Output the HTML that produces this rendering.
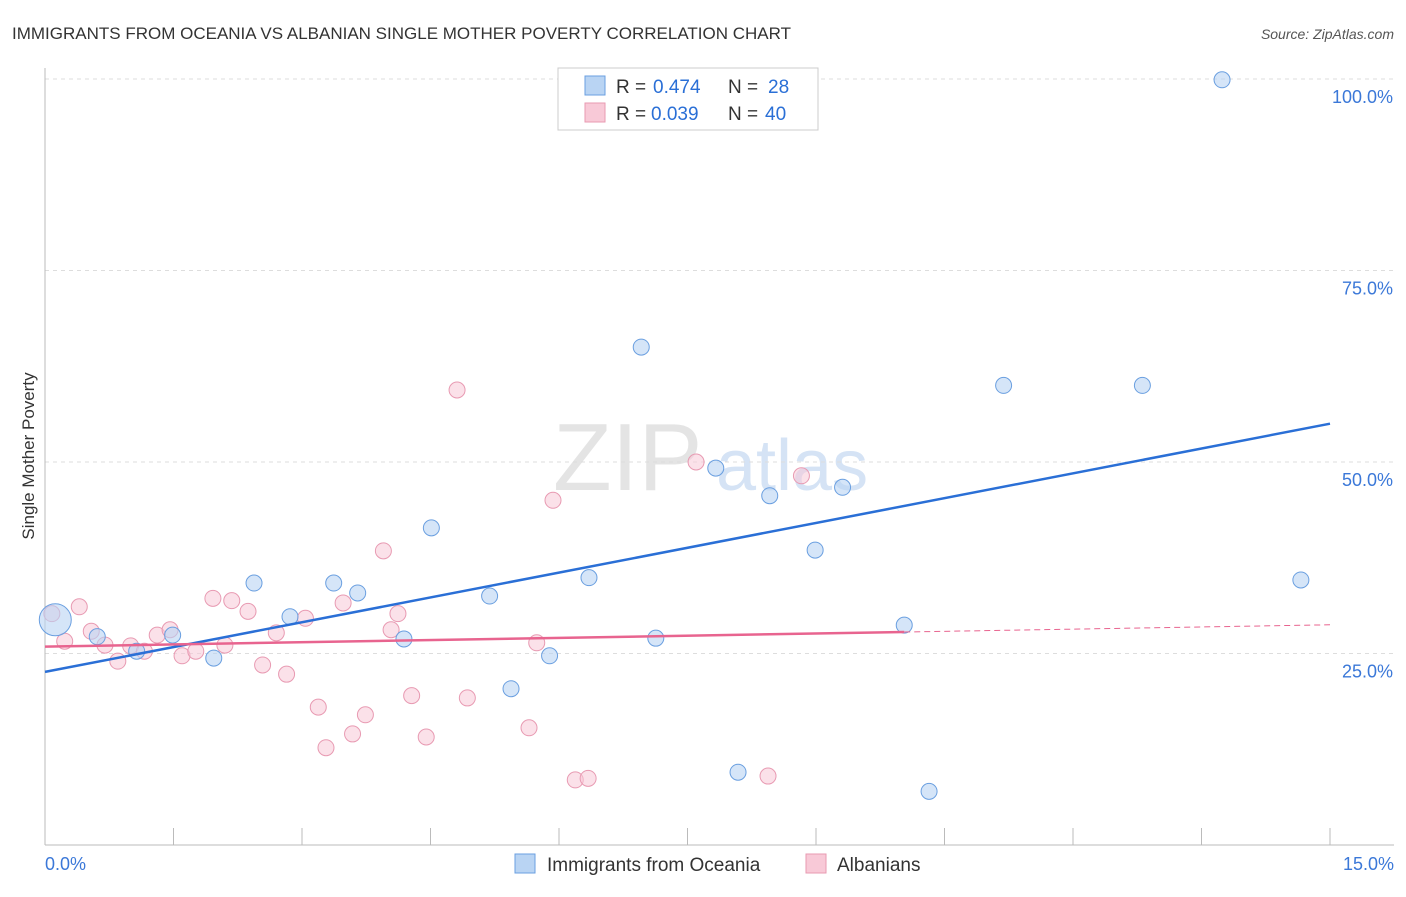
<!DOCTYPE html>
<html><head><meta charset="utf-8"><style>
body{margin:0;background:#fff;font-family:"Liberation Sans",sans-serif;}
svg text{font-family:"Liberation Sans",sans-serif;}
</style></head><body>
<svg id="chart" width="1406" height="892" xmlns="http://www.w3.org/2000/svg">
<text x="12" y="39" font-size="17" fill="#333">IMMIGRANTS FROM OCEANIA VS ALBANIAN SINGLE MOTHER POVERTY CORRELATION CHART</text>
<text x="1394" y="39" font-size="14" fill="#555" font-style="italic" text-anchor="end">Source: ZipAtlas.com</text>
<text x="553" y="490" font-size="96" fill="#e4e4e4" font-family="Liberation Serif">ZIP<tspan x="716" fill="#d5e3f5" font-family="Liberation Sans" font-size="72">atlas</tspan></text>
<g id="grid"></g>
<g id="axes"></g>
<g id="marks"></g>
<text transform="translate(34,456) rotate(-90)" font-size="17" fill="#333" text-anchor="middle">Single Mother Poverty</text>
<g>
<rect x="558" y="68" width="260" height="62" fill="#fff" stroke="#ccc"/>
<rect x="585" y="76" width="20" height="19" fill="#b9d4f3" stroke="#6a9fe0"/>
<g font-size="19">
<text x="616" y="93" fill="#333">R =</text><text x="653" y="93" fill="#2a6fd6">0.474</text>
<text x="728" y="93" fill="#333">N =</text><text x="768" y="93" fill="#2a6fd6">28</text></g>
<rect x="585" y="103" width="20" height="19" fill="#f8c9d7" stroke="#e89ab2"/>
<g font-size="19">
<text x="616" y="120" fill="#333">R =</text><text x="651" y="120" fill="#2a6fd6">0.039</text>
<text x="728" y="120" fill="#333">N =</text><text x="765" y="120" fill="#2a6fd6">40</text></g>
</g>
<g>
<rect x="515" y="854" width="20" height="19" fill="#b9d4f3" stroke="#6a9fe0"/>
<text x="547" y="871" font-size="19" fill="#333">Immigrants from Oceania</text>
<rect x="806" y="854" width="20" height="19" fill="#f8c9d7" stroke="#e89ab2"/>
<text x="837" y="871" font-size="19" fill="#333">Albanians</text>
</g>
</svg>
<script>
const blueX=[0.12,0.61,1.07,1.49,1.97,2.44,2.86,3.37,3.65,4.19,4.51,5.19,5.44,5.89,6.35,6.96,7.13,7.83,8.09,8.46,8.99,9.31,10.03,10.32,11.19,12.81,13.74,14.66];
const blueY=[29.4,27.2,25.3,27.4,24.4,34.2,29.8,34.2,32.9,26.9,41.4,32.5,20.4,24.7,34.9,65.0,27.0,49.2,9.5,45.6,38.5,46.7,28.7,7.0,60.0,60.0,99.9,34.6];
const pinkX=[0.08,0.23,0.40,0.54,0.70,0.85,1.00,1.16,1.31,1.46,1.60,1.76,1.96,2.10,2.18,2.37,2.54,2.70,2.82,3.04,3.19,3.28,3.48,3.59,3.74,3.95,4.04,4.12,4.28,4.45,4.81,4.93,5.65,5.74,5.93,6.19,6.34,7.60,8.44,8.83];
const pinkY=[30.2,26.6,31.1,27.9,26.1,24.0,26.0,25.3,27.4,28.1,24.7,25.3,32.2,26.1,31.9,30.5,23.5,27.7,22.3,29.6,18.0,12.7,31.6,14.5,17.0,38.4,28.1,30.2,19.5,14.1,59.4,19.2,15.3,26.4,45.0,8.5,8.7,50.0,9.0,48.2];
const blueTrend=[22.6,55.0];
const pinkTrend=[25.9,28.75];
const pinkSolidEnd=10.03;
const yTicks=[25,50,75,100];
const yTickLabels=["25.0%","50.0%","75.0%","100.0%"];
const xTicks=[0,1.5,3,4.5,6,7.5,9,10.5,12,13.5,15];
const NS="http://www.w3.org/2000/svg";
const X=v=>45+v/15*1285, Y=v=>845-v/25*191.5;
function mk(t,a,p){const e=document.createElementNS(NS,t);for(const k in a)e.setAttribute(k,a[k]);p.appendChild(e);return e;}
const grid=document.getElementById('grid'),axes=document.getElementById('axes'),marks=document.getElementById('marks');
yTicks.forEach((v,i)=>{
 const l=mk('line',{x1:45,x2:1394,y1:Y(v),y2:Y(v),stroke:'#ddd','stroke-dasharray':'4,4'},grid);
 
 
 const t=mk('text',{x:1393,y:Y(v)+24,'font-size':18,fill:'#3b78d8','text-anchor':'end'},axes);t.textContent=yTickLabels[i];
 
 
});
mk('line',{x1:45,x2:45,y1:68,y2:845,stroke:'#bbb'},axes);
mk('line',{x1:45,x2:1394,y1:845,y2:845,stroke:'#bbb'},axes);
xTicks.forEach(v=>{const l=mk('line',{x1:X(v),x2:X(v),y1:828,y2:845,stroke:'#bbb'},axes);
 
 });
let t=mk('text',{x:45,y:870,'font-size':18,fill:'#3b78d8'},axes);t.textContent='0.0%';


t=mk('text',{x:1394,y:870,'font-size':18,fill:'#3b78d8','text-anchor':'end'},axes);t.textContent='15.0%';


pinkX.forEach((x,i)=>{const c=mk('circle',{cx:X(x),cy:Y(pinkY[i]),r:8,fill:'#f8c9d7','fill-opacity':0.55,stroke:'#e89ab2','stroke-width':1},marks);
 
 });
blueX.forEach((x,i)=>{const c=mk('circle',{cx:X(x),cy:Y(blueY[i]),r:i===0?16:8,fill:'#b9d4f3','fill-opacity':0.6,stroke:'#6a9fe0','stroke-width':1},marks);
 
 });
let l=mk('line',{x1:X(0),y1:Y(blueTrend[0]),x2:X(15),y2:Y(blueTrend[1]),stroke:'#2a6fd6','stroke-width':2.5},marks);


const pm=pinkTrend[0]+(pinkTrend[1]-pinkTrend[0])*pinkSolidEnd/15;
l=mk('line',{x1:X(0),y1:Y(pinkTrend[0]),x2:X(pinkSolidEnd),y2:Y(pm),stroke:'#e8648f','stroke-width':2.5},marks);


l=mk('line',{x1:X(pinkSolidEnd),y1:Y(pm),x2:X(15),y2:Y(pinkTrend[1]),stroke:'#e8648f','stroke-width':1,'stroke-dasharray':'6,4'},marks);


</script>
</body></html>
